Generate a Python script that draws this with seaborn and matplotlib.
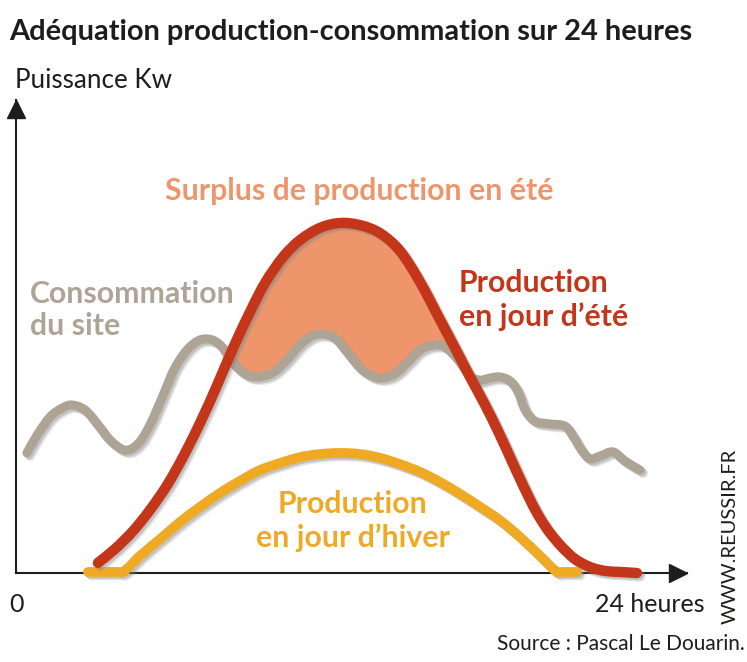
import pandas as pd
import matplotlib.pyplot as plt
import matplotlib.patheffects as pe
from matplotlib.path import Path
import seaborn as sns

sns.set_theme(style="white")
plt.rcParams['font.family'] = ['Lato', 'DejaVu Sans']

# Values (hours, power in % of the summer peak)
summer_hours = [3.17, 3.83, 4.52, 5.17, 5.83, 6.44, 7.10, 7.71, 8.37, 9.02, 9.60, 10.29, 10.94, 11.71,
                12.48, 13.25, 14.02, 14.79, 15.56, 16.33, 16.90, 17.48, 18.06, 18.63, 19.21, 19.79,
                20.17, 20.56, 21.02, 21.52, 22.10, 22.67, 23.25, 23.90]
summer_power = [2.9, 6.9, 12, 18, 25.1, 33.1, 42.9, 52.9, 64.3, 74.6, 82.9, 90.3, 95.1, 98.6,
                100, 99.4, 97.1, 92, 83.1, 72.3, 64.3, 56, 48, 39.4, 30, 20.9,
                15.7, 11.4, 7.4, 4, 1.7, 0.6, 0.3, 0]

site_hours = [0.44, 0.83, 1.33, 1.79, 2.17, 2.67, 3.17, 3.63, 4.21, 4.71, 5.17, 5.63, 6.13, 6.63, 7.10,
              7.56, 7.94, 8.33, 8.83, 9.29, 9.87, 10.37, 10.94, 11.40, 11.83, 12.29, 12.75, 13.25,
              13.71, 14.13, 14.60, 15.10, 15.56, 16.06, 16.52, 17.02, 17.48, 17.87, 18.25, 18.63,
              19.02, 19.33, 19.60, 19.98, 20.56, 21.13, 21.44, 21.79, 22.10, 22.48, 22.98, 23.44, 24.02]
site_power = [34.3, 39.4, 44.6, 47.1, 48, 46.6, 42.3, 38, 35.1, 36.9, 42.3, 50, 58.6, 64, 66.6,
              66.6, 64.6, 60.3, 56.9, 56, 57.1, 60.3, 65.1, 67.7, 68.3, 67.1, 63.1, 58.6,
              56.3, 55.7, 56.9, 60.3, 63.7, 65.1, 64.6, 60.9, 56.3, 55.1, 55.7, 56,
              54.9, 51.7, 46.6, 43.4, 42.6, 42, 39.1, 34.9, 32.6, 33.4, 34.6, 32, 29.4]

winter_hours = [2.79, 3.44, 3.95, 4.13, 4.40, 4.79, 5.56, 6.33, 7.10, 7.87, 8.63, 9.40, 10.17, 10.94, 11.71, 12.48,
                13.25, 14.02, 14.79, 15.56, 16.33, 17.10, 17.87, 18.63, 19.40, 20.17, 20.56, 20.83, 21.0, 21.21, 21.6]
winter_power = [0.3, 0.3, 0.3, 0.3, 2, 4.9, 9.7, 14.6, 18.9, 22.9, 26.3, 29.4, 31.4, 33.1, 34, 34.3,
                34, 32.9, 31.1, 28.9, 26, 22.6, 18.9, 15.1, 10.3, 4.9, 2, 0.3, 0.3, 0.3, 0.3]

RED = "#C4361A"
GREY = "#AEA496"
YELLOW = "#F0A922"
ORANGE = "#EF956C"
DARK = "#1D1D1B"

summer = pd.DataFrame({"hours": summer_hours, "power": summer_power})
site = pd.DataFrame({"hours": site_hours, "power": site_power})
winter = pd.DataFrame({"hours": winter_hours, "power": winter_power})

W, H = 747, 662
fig = plt.figure(figsize=(W / 100, H / 100), dpi=100, facecolor="white")
ax = fig.add_axes([15.5 / W, (H - 573) / H, 671.5 / W, 473 / H])


# Draws a line as bezier curves through its own points, so the curves stay round
class Smooth(pe.AbstractPathEffect):
    def __init__(self, offset=(0, 0), color=None, alpha=None):
        super().__init__(offset)
        self.color = color
        self.alpha = alpha

    def draw_path(self, renderer, gc, tpath, affine, rgbFace=None):
        p = tpath.vertices
        verts = [p[0]]
        codes = [Path.MOVETO]
        for i in range(len(p) - 1):
            before = p[max(i - 1, 0)]
            after = p[min(i + 2, len(p) - 1)]
            verts += [p[i] + (p[i + 1] - before) / 6, p[i + 1] - (after - p[i]) / 6, p[i + 1]]
            codes += [Path.CURVE4] * 3
        gc0 = renderer.new_gc()
        gc0.copy_properties(gc)
        if self.color:
            gc0.set_foreground(self.color)
            gc0.set_alpha(self.alpha)
        renderer.draw_path(gc0, Path(verts, codes), affine + self._offset_transform(renderer), rgbFace)
        gc0.restore()


def line(df, color, width, z):
    sns.lineplot(data=df, x="hours", y="power", color=color, linewidth=width, sort=False,
                 estimator=None, errorbar=None, ax=ax, zorder=z, solid_capstyle="round",
                 solid_joinstyle="round", clip_on=False,
                 path_effects=[Smooth((2.5, -2.5), "#999999", 0.25), Smooth((1.5, -1.5), "#777777", 0.3), Smooth()])


# Surplus area between the summer curve and the site curve
top = summer[(summer.hours > 8.3) & (summer.hours < 17)]
low = site[(site.hours > 8.3) & (site.hours < 16.8)].iloc[::-1]
ax.fill(list(top.hours) + list(low.hours), list(top.power) + list(low.power), color=ORANGE, lw=0, zorder=1)

line(site, GREY, 6.5, 2)
line(winter, YELLOW, 7, 3)
line(summer, RED, 7.5, 4)

ax.set_xlim(0, 671.5 / 26)
ax.set_ylim(0, 473 / 3.5)
ax.set_xticks([])
ax.set_yticks([])
ax.set_xlabel("")
ax.set_ylabel("")
ax.patch.set_alpha(0)
sns.despine(ax=ax)
for side in ["left", "bottom"]:
    ax.spines[side].set_color(DARK)
    ax.spines[side].set_linewidth(1.5)
ax.plot(1 - 9 / 671.5, 0, ">", color=DARK, ms=13, transform=ax.transAxes, clip_on=False, zorder=5)
ax.plot(0, 1 - 9 / 473, "^", color=DARK, ms=13, transform=ax.transAxes, clip_on=False, zorder=5)


def label(x, y, s, color=DARK, size=20, weight="normal", **kw):
    fig.text(x / W, 1 - y / H, s, color=color, fontsize=size, fontweight=weight, va="center", **kw)


label(9, 32, "Adéquation production-consommation sur 24 heures", size=20.9, weight="bold")
label(15, 81, "Puissance Kw", size=18.7)
label(165, 191, "Surplus de production en été", color=ORANGE, size=21.8, weight="bold")
label(30, 310, "Consommation\ndu site", color=GREY, size=21.8, weight="bold", linespacing=1.2)
label(459, 300, "Production\nen jour d’été", color=RED, size=21.8, weight="bold", linespacing=1.2)
label(353, 521, "Production\nen jour d’hiver", color=YELLOW, size=21.8, weight="bold", linespacing=1.2,
      ha="center", multialignment="center")
label(16, 604, "0", size=18, ha="center")
label(595, 605, "24 heures", size=18)
label(730, 536, "WWW.REUSSIR.FR", size=14.5, rotation=90, ha="center")
label(745, 644, "Source : Pascal Le Douarin.", size=15, ha="right")

fig.savefig("out.png", dpi=100, facecolor="white")
